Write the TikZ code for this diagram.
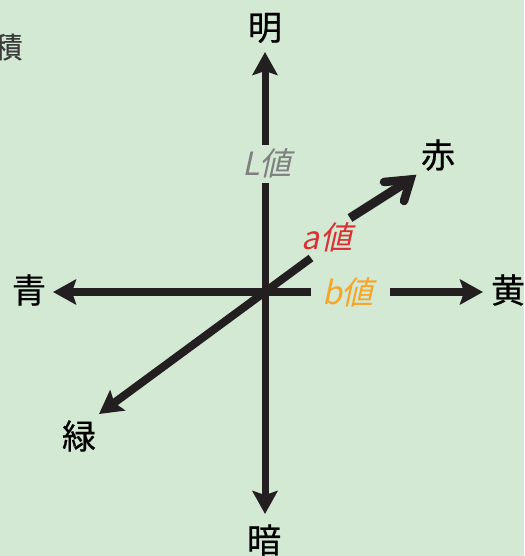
\documentclass[tikz,border=0pt]{standalone}
\usepackage{fontspec}
\newfontfamily\jp[FakeBold=0.6]{Noto Sans CJK JP}
\newfontfamily\jpit[FakeSlant=0.22]{Noto Sans CJK JP}
\usetikzlibrary{arrows.meta}
\definecolor{bg}{RGB}{211,233,212}
\definecolor{ink}{RGB}{35,31,32}
\definecolor{lgray}{RGB}{128,128,128}
\definecolor{ared}{RGB}{218,50,50}
\definecolor{borange}{RGB}{245,165,40}
\definecolor{cgray}{RGB}{60,60,60}
\begin{document}
\begin{tikzpicture}[x=1pt,y=-1pt,
  axis/.style={draw=ink,line width=7pt},
  head/.style={-{Stealth[length=23pt,width=25pt,inset=4pt]}},
  barb/.style={draw=ink,line width=8.5pt,line cap=round,line join=miter},
  pole/.style={font=\jp\fontsize{34}{34}\selectfont,inner sep=0pt,text=black},
  val/.style={font=\jpit\fontsize{32}{32}\selectfont,inner sep=0pt}]
\fill[bg] (0,0) rectangle (524,556);
\useasboundingbox (0,0) rectangle (524,556);

\node[pole] (ming) at (265,28) {明};
\node[pole] (an) at (264,540) {暗};
\node[pole] (qing) at (29,290) {青};
\node[pole] (huang) at (508,290) {黄};
\node[pole] (chi) at (438,155) {赤};
\node[pole] (lu) at (79,436) {緑};
\node[font=\jp\fontsize{29}{29}\selectfont,inner sep=0pt,text=cgray] (corner) at (8,47) {積};
\node[val,text=lgray] (L) at (267,163) {L値};
\node[val,text=ared] (a) at (327,237) {a値};
\node[val,text=borange] (b) at (348,292) {b値};

\coordinate (Ltop) at (265,145);
\coordinate (topTip) at (265,52);
\coordinate (Lbot) at (265,183);
\coordinate (botTip) at (265,514);
\coordinate (hEnd) at (311,292);
\coordinate (leftTip) at (53,292);
\coordinate (bRight) at (390,292);
\coordinate (rightTip) at (483,292);
\coordinate (dEnd) at (311,258);
\coordinate (greenTip) at (99,414);
\coordinate (aStart) at (350,218);
\coordinate (redV) at (410.5,179.5);
\coordinate (armA) at (384,182);
\coordinate (armB) at (404,201);

\draw[axis,head] (Ltop) -- (topTip);
\draw[axis,head] (Lbot) -- (botTip);
\draw[axis,line width=8pt,head] (hEnd) -- (leftTip);
\draw[axis,line width=8pt,head] (bRight) -- (rightTip);
\draw[axis,line width=8pt,head] (dEnd) -- (greenTip);
\draw[axis,line width=9pt] (aStart) -- (redV);
\draw[barb] (armA) -- (redV) -- (armB);
\end{tikzpicture}
\end{document}
